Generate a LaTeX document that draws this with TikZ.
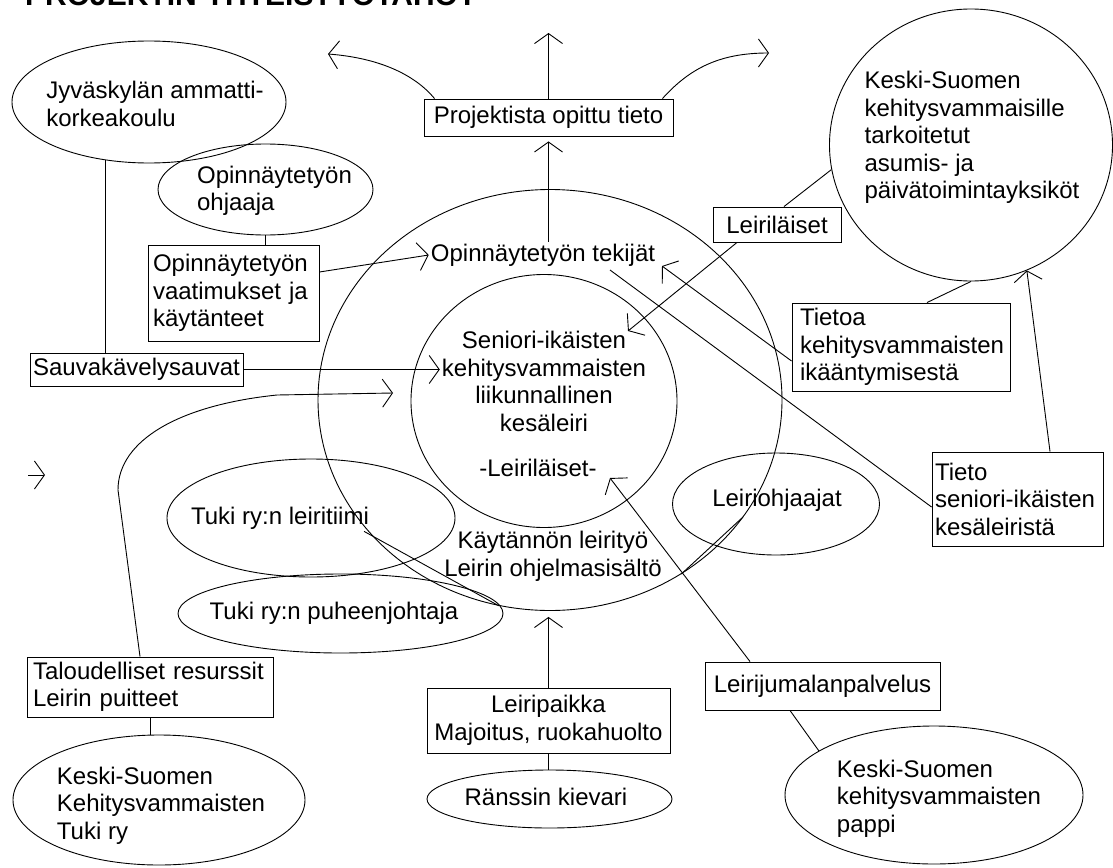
\documentclass[tikz,border=0pt]{standalone}
\usepackage{fontspec}
\setmainfont{Liberation Sans}
\usetikzlibrary{arrows.meta,shapes.geometric,calc}
\begin{document}
\begin{tikzpicture}[x=1pt,y=-1pt,
  every node/.style={font=\fontsize{24}{27.5}\selectfont, inner sep=2pt},
  ln/.style={line width=0.9pt},
  arr/.style={ln,-{Straight Barb[length=10pt,width=28pt]}},
  bx/.style={draw,ln,inner sep=0pt},
  lbx/.style={draw,ln,align=left,inner ysep=0pt},
  el/.style={draw,ln,ellipse,inner sep=0pt},
]
\useasboundingbox (0,0) rectangle (1113,867);
\clip (0,0) rectangle (1113,867);
\fill[white] (0,0) rectangle (1113,867);

% title (cut off at the top)
\node[anchor=base west, inner sep=0pt, font=\bfseries\fontsize{30}{30}\selectfont] (title) at (25,6) {PROJEKTIN YHTEISTYÖTAHOT};

% big ellipses
\node[el, minimum width=464pt, minimum height=421pt] (outer) at (550,400) {};
\node[el, minimum width=266pt, minimum height=253pt] (inner) at (544,401) {};

% ellipses
\node[el, minimum width=274pt, minimum height=122pt] (jamk) at (149,102) {};
\node[align=left] (jamkT) at (155,104) {Jyväskylän ammatti-\\korkeakoulu};
\node[el, minimum width=215pt, minimum height=91pt] (ohj) at (265.5,189.5) {};
\node[align=left] (ohjT) at (274.5,191) {Opinnäytetyön\\ohjaaja};
\node[el, minimum width=283pt, minimum height=272pt] (asumis) at (971,145) {};
\node[align=left] (asumisT) at (972,137.5) {Keski-Suomen\\kehitysvammaisille\\tarkoitetut\\asumis- ja\\päivätoimintayksiköt};
\node[el, minimum width=207pt, minimum height=102pt] (ohjaajat) at (776,504) {};
\node (ohjaajatT) at (777,500) {Leiriohjaajat};
\node[el, minimum width=288pt, minimum height=118pt] (tiimi) at (311,518) {};
\node (tiimiT) at (280,518) {Tuki ry:n leiritiimi};
\node[el, minimum width=325pt, minimum height=79pt] (puh) at (340.5,613.5) {};
\node (puhT) at (334,613) {Tuki ry:n puheenjohtaja};
\node[el, minimum width=245pt, minimum height=58pt] (kievari) at (549.5,799) {};
\node (kievariT) at (546,797) {Ränssin kievari};
\node[el, minimum width=292pt, minimum height=130pt] (tukiry) at (159,800) {};
\node[align=left] (tukiryT) at (161,805.5) {Keski-Suomen\\Kehitysvammaisten\\Tuki ry};
\node[el, minimum width=298pt, minimum height=138pt] (pappi) at (934,795) {};
\node[align=left] (pappiT) at (939,798.5) {Keski-Suomen\\kehitysvammaisten\\pappi};

% texts inside the big ellipses
\node (tekT) at (543,255) {Opinnäytetyön tekijät};
\node[align=center] (senT) at (544,381.5) {Seniori-ikäisten\\kehitysvammaisten\\liikunnallinen\\kesäleiri};
\node (leirT) at (538,468) {-Leiriläiset-};
\node[align=center] (kayT) at (553,556.5) {Käytännön leirityö\\Leirin ohjelmasisältö};

% boxes
\node[bx, minimum width=249pt, minimum height=37pt] (proj) at (548.5,117.5) {Projektista opittu tieto};
\node[lbx, inner xsep=5pt, text width=161pt, minimum height=96pt] (vaat) at (233.5,293) {Opinnäytetyön\\vaatimukset ja\\käytänteet};
\node[bx, minimum width=213pt, minimum height=33pt] (sauva) at (136.5,369.5) {Sauvakävelysauvat};
\node[bx, minimum width=128pt, minimum height=35pt] (leirl) at (777,224.5) {Leiriläiset};
\node[lbx, inner xsep=8pt, text width=202pt, minimum height=88pt] (tietoa) at (901,347) {Tietoa\\kehitysvammaisten\\ikääntymisestä};
\node[lbx, inner xsep=3pt, text width=165pt, minimum height=94pt] (tieto) at (1017.5,499) {Tieto\\seniori-ikäisten\\kesäleiristä};
\node[bx, minimum width=235pt, minimum height=48pt] (jumala) at (822.5,686) {Leirijumalanpalvelus};
\node[bx, align=center, minimum width=243pt, minimum height=65pt] (paikka) at (548.5,720.5) {Leiripaikka\\Majoitus, ruokahuolto};
\node[lbx, inner xsep=6pt, text width=234pt, minimum height=60pt] (talous) at (150,687) {Taloudelliset resurssit\\Leirin puitteet};

% free ends of connectors
\coordinate (upTip) at (550,33);
\coordinate (outL) at (328,54);
\coordinate (outR) at (769,53);
\coordinate (tipS) at (628,331);
\coordinate (tipT) at (662,266);
\coordinate (tekEnd) at (610,270);
\coordinate (tipL) at (610,478);
\coordinate (bendA) at (118,490);
\coordinate (bendB) at (277,395);
\coordinate (tipC) at (393,393);
\coordinate (strayA) at (28,475);
\coordinate (strayB) at (45,475);

% connectors
\draw[ln] (ohj.south) -- (ohj.south |- vaat.north);
\draw[ln] (jamk.233) -- (jamk.233 |- sauva.north);
\draw[arr] ([yshift=21pt]vaat.east) -- (tekT.west);
\draw[arr] (sauva.east) -- (sauva.east -| senT.west);
\draw[arr, shorten >=5pt] (proj.south |- tekT.north) -- (proj.south);
\draw[arr] (proj.north) -- (proj.north |- upTip);
\draw[arr] ([xshift=11pt]proj.north west) .. controls (415,75) and (380,58) .. (outL);
\draw[arr] ([xshift=-11pt]proj.north east) .. controls (690,68) and (720,53) .. (outR);
\draw[ln] ([xshift=7pt]leirl.north) -- (asumis.190);
\draw[arr] ([xshift=-40pt]leirl.south) -- (tipS);
\draw[ln] ([xshift=26pt]tietoa.north) -- (asumis.270);
\draw[arr] ([yshift=-14pt]tietoa.west) -- (tipT);
\draw[ln] ([yshift=-8pt]tieto.west) -- (tekEnd);
\draw[arr] ([xshift=32.5pt]tieto.north) -- (asumis.294);
\draw[ln] ([xshift=-33pt,yshift=-13pt]ohjaajat.center) -- (outer.307.5);
\draw[arr] ([xshift=-72.5pt]jumala.north) -- (tipL);
\draw[ln] ([xshift=-7pt]tiimiT.south east) -- (outer.256);
\draw[arr, shorten >=6pt] (paikka.north) -- (paikka.north |- outer.south);
\draw[ln] (paikka.south) -- (paikka.south |- kievari.north);
\draw[ln] ([xshift=-32.5pt]jumala.south) -- (pappi.159);
\draw[ln] (talous.south) -- (talous.south |- tukiry.north);
\draw[arr] ([xshift=-10pt]talous.north) -- (bendA) .. controls (118,440) and (180,405) .. (bendB) -- (tipC);
\draw[arr] (strayA) -- (strayB);
\end{tikzpicture}
\end{document}
